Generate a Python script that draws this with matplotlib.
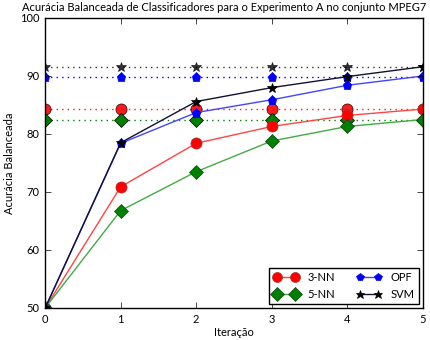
import matplotlib
matplotlib.use('Agg')
import matplotlib.pyplot as plt
import numpy as np

plt.style.use('classic')
plt.rcParams['font.family'] = ['Lato', 'DejaVu Sans']

iteracoes = [0, 1, 2, 3, 4, 5]
knn3 = [50.0, 70.9, 78.4, 81.3, 83.2, 84.3]
knn5 = [50.0, 66.8, 73.5, 78.8, 81.3, 82.5]
opf = [50.0, 78.4, 83.7, 85.9, 88.4, 90.0]
svm = [50.0, 78.5, 85.6, 88.0, 89.9, 91.6]

# valores de referencia (linhas pontilhadas)
ref_knn3 = 84.3
ref_knn5 = 82.5
ref_opf = 89.8
ref_svm = 91.6

x = np.array(iteracoes)
fig = plt.figure(figsize=(4.3, 3.4), dpi=100)
ax = fig.add_axes([0.105, 0.094, 0.878, 0.853])

ax.plot(x, [ref_svm]*len(x), ':', color='k', marker='*', ms=7, alpha=0.8)
ax.plot(x, [ref_opf]*len(x), ':', color='b', marker='p', ms=6.5, mec='b')
ax.plot(x, [ref_knn3]*len(x), ':', color='r', marker='o', ms=8, alpha=0.9)
ax.plot(x, [ref_knn5]*len(x), ':', color='g', marker='D', ms=7.5)

ax.plot(x, knn3, '-', color='#ff4444', marker='o', ms=8, mfc='r', mec='#aa3333', label='3-NN')
ax.plot(x, knn5, '-', color='#44aa44', marker='D', ms=7.5, mfc='g', mec='#114411', label='5-NN')
ax.plot(x, opf, '-', color='#4444ff', marker='p', ms=6.5, mfc='b', mec='b', label='OPF')
ax.plot(x, svm, '-', color='#111133', marker='*', ms=7, mfc='k', label='SVM')

ax.set_xlim(0, 5)
ax.set_ylim(50, 100)
ax.set_xticks(iteracoes)
ax.set_yticks([50, 60, 70, 80, 90, 100])
ax.tick_params(labelsize=8)
ax.set_xlabel('Iteração', fontsize=8, labelpad=2)
ax.set_ylabel('Acurácia Balanceada', fontsize=8, labelpad=4)
ax.set_title('Acurácia Balanceada de Classificadores para o Experimento A no conjunto MPEG7',
             fontsize=8, x=0.475, y=1.0)
ax.legend(loc='lower right', ncol=2, fontsize=8, numpoints=2, handlelength=2.2,
          markerscale=0.9, borderaxespad=0.35, columnspacing=2.0)

fig.savefig('out.png', dpi=100)
